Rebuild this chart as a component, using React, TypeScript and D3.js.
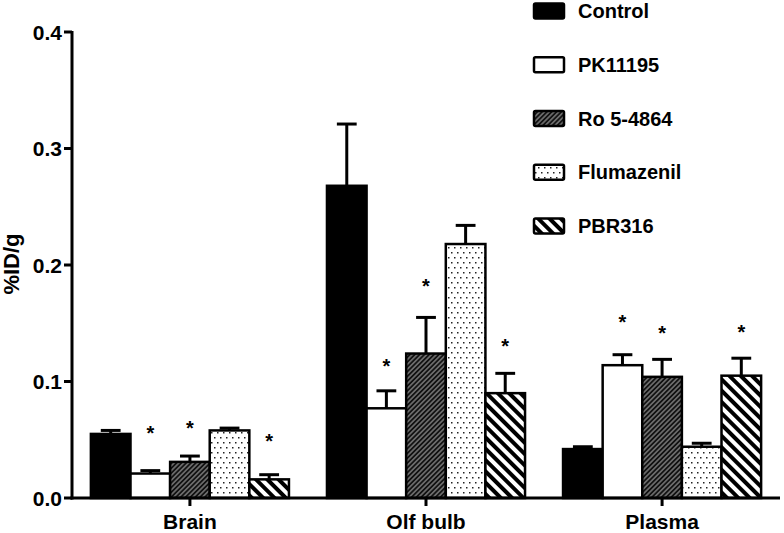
import React from "react";
import * as d3 from "d3";

const groups = ["Brain", "Olf bulb", "Plasma"];
const series = ["Control", "PK11195", "Ro 5-4864", "Flumazenil", "PBR316"];
const controlMean = [0.055, 0.268, 0.042];
const pkMean = [0.021, 0.077, 0.114];
const roMean = [0.031, 0.124, 0.104];
const flumMean = [0.058, 0.218, 0.044];
const pbrMean = [0.016, 0.090, 0.105];
const controlErr = [0.003, 0.053, 0.002];
const pkErr = [0.0025, 0.015, 0.009];
const roErr = [0.005, 0.031, 0.015];
const flumErr = [0.002, 0.016, 0.003];
const pbrErr = [0.004, 0.017, 0.015];
// significance star levels (null = none)
const controlStar = [null, null, null];
const pkStar = [0.059, 0.117, 0.1545];
const roStar = [0.0635, 0.185, 0.145];
const flumStar = [null, null, null];
const pbrStar = [0.0526, 0.1336, 0.146];
const yTicks = [0, 0.1, 0.2, 0.3, 0.4];
const yTickLabels = ["0.0", "0.1", "0.2", "0.3", "0.4"];
const yLabel = "%ID/g";

const means = [controlMean, pkMean, roMean, flumMean, pbrMean];
const errs = [controlErr, pkErr, roErr, flumErr, pbrErr];
const stars = [controlStar, pkStar, roStar, flumStar, pbrStar];
const fills = ["#000", "#fff", "url(#hatchRo)", "url(#dots)", "url(#hatchPbr)"];

const W = 784, H = 533;
const FONT = "'Liberation Sans', Arial, Helvetica, sans-serif";

export default function App() {
  const axisX = 72, axisY = 498;
  const y = d3.scaleLinear().domain([0, 0.4]).range([axisY, 32]);
  const x0 = d3.scaleBand().domain(groups).range([axisX, 780]).paddingInner(0.161).paddingOuter(0.08);
  const x1 = d3.scaleBand().domain(series).range([0, x0.bandwidth()]).padding(0);
  const bw = x1.bandwidth();
  const sw = 2.5;

  return (
    <svg width={W} height={H} style={{ position: "absolute", left: 0, top: 0, background: "#fff" }}>
      <defs>
        <pattern id="hatchRo" patternUnits="userSpaceOnUse" width={3.4} height={3.4} patternTransform="rotate(45)">
          <rect width={3.4} height={3.4} fill="#111" />
          <line x1={1.7} y1={0} x2={1.7} y2={3.4} stroke="#bbb" strokeWidth={0.9} />
        </pattern>
        <pattern id="hatchPbr" patternUnits="userSpaceOnUse" width={8} height={8} patternTransform="rotate(-45)">
          <rect width={8} height={8} fill="#fff" />
          <rect x={0} y={0} width={4} height={8} fill="#000" />
        </pattern>
        <pattern id="dots" patternUnits="userSpaceOnUse" width={6} height={10}>
          <rect width={6} height={10} fill="#fff" />
          <rect x={1} y={2} width={1.5} height={1.5} fill="#222" />
          <rect x={4} y={7} width={1.5} height={1.5} fill="#222" />
        </pattern>
      </defs>

      {/* bars */}
      {groups.map((g, gi) =>
        series.map((s, si) => {
          const bx = (x0(g) as number) + (x1(s) as number);
          const v = means[si][gi];
          const e = errs[si][gi];
          const top = y(v);
          const cx = bx + bw / 2;
          const st = stars[si][gi];
          return (
            <g key={g + s}>
              <line x1={cx} x2={cx} y1={top} y2={y(v + e)} stroke="#000" strokeWidth={3} />
              <line x1={cx - bw / 4} x2={cx + bw / 4} y1={y(v + e)} y2={y(v + e)} stroke="#000" strokeWidth={3} />
              <rect x={bx} y={top} width={bw} height={axisY - top} fill={fills[si]} stroke="#000" strokeWidth={sw} />
              {st != null && (
                <text x={cx} y={y(st) + 11} textAnchor="middle" fontFamily={FONT} fontWeight="bold" fontSize={20} fill="#000">*</text>
              )}
            </g>
          );
        })
      )}

      {/* axes */}
      <line x1={axisX} x2={axisX} y1={y(0.4) - 1} y2={axisY + 1.5} stroke="#000" strokeWidth={3} />
      <line x1={axisX - 1.5} x2={780} y1={axisY} y2={axisY} stroke="#000" strokeWidth={3} />
      {yTicks.map((t, i) => (
        <g key={t}>
          <line x1={axisX - 8} x2={axisX} y1={y(t)} y2={y(t)} stroke="#000" strokeWidth={3} />
          <text x={axisX - 10} y={y(t)} dy="0.36em" textAnchor="end" fontFamily={FONT} fontWeight="bold" fontSize={21} fill="#000">{yTickLabels[i]}</text>
        </g>
      ))}
      {groups.map((g) => {
        const cx = (x0(g) as number) + x0.bandwidth() / 2;
        return (
          <g key={g}>
            <line x1={cx} x2={cx} y1={axisY} y2={axisY + 8} stroke="#000" strokeWidth={3} />
            <text x={cx} y={529} textAnchor="middle" fontFamily={FONT} fontWeight="bold" fontSize={21} fill="#000">{g}</text>
          </g>
        );
      })}
      <text transform={`translate(19,264) rotate(-90)`} textAnchor="middle" fontFamily={FONT} fontWeight="bold" fontSize={22} fill="#000">{yLabel}</text>

      {/* legend */}
      {series.map((s, i) => {
        const cy = 11 + i * 53.75;
        return (
          <g key={s}>
            <rect x={534} y={cy - 7.5} width={30} height={15} rx={1.5} fill={fills[i]} stroke="#000" strokeWidth={2.5} />
            <text x={578} y={cy} dy="0.36em" fontFamily={FONT} fontWeight="bold" fontSize={20} fill="#000">{s}</text>
          </g>
        );
      })}
    </svg>
  );
}
